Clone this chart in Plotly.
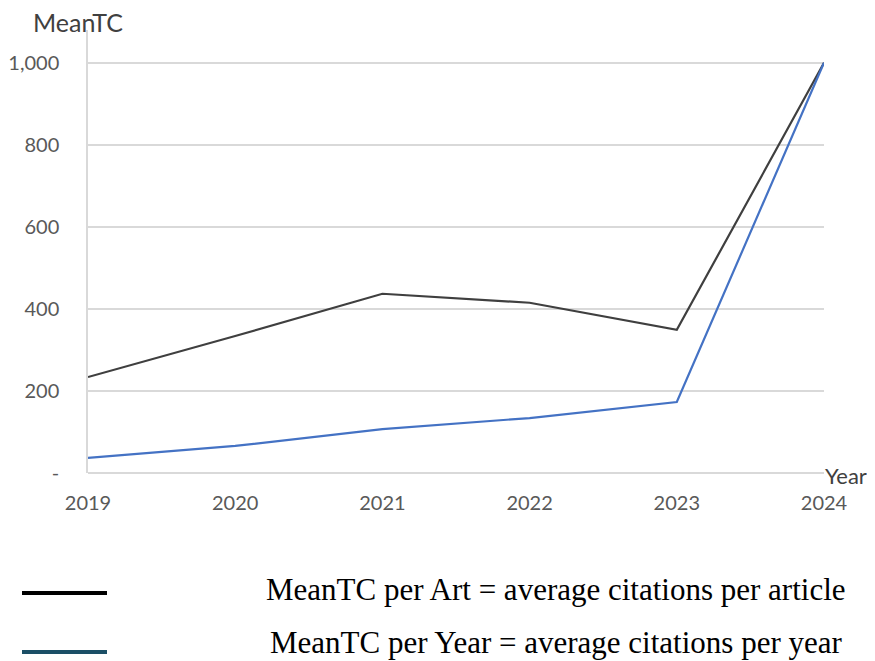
import plotly.graph_objects as go

years = [2019, 2020, 2021, 2022, 2023, 2024]
mean_tc_per_art = [234, 334, 437, 415, 349, 1000]
mean_tc_per_year = [37, 66, 107, 134, 173, 1000]
y_tick_vals = [0, 200, 400, 600, 800, 1000]
y_tick_text = ["-", "200", "400", "600", "800", "1,000"]
legend_labels = ["MeanTC per Art = average citations per article",
                 "MeanTC per Year = average citations per year"]
legend_colors = ["#000000", "#1b4f66"]

# page body has an 8px margin; figure geometry is offset accordingly
W, H = 867, 653
L, R, T, B = 80, 51, 22, 188
PW, PH = W - L - R, H - T - B


def px(x):
    return (x - 8 - L) / PW


def py(y):
    return 1 - (y - 8 - T) / PH


fig = go.Figure()
fig.add_trace(go.Scatter(x=years, y=mean_tc_per_art, mode="lines",
                         line=dict(color="#3f3f3f", width=2.2), showlegend=False))
fig.add_trace(go.Scatter(x=years, y=mean_tc_per_year, mode="lines",
                         line=dict(color="#4472c4", width=2.2), showlegend=False))

fig.update_layout(
    width=W, height=H,
    margin=dict(l=L, r=R, t=T, b=B, autoexpand=False),
    plot_bgcolor="white", paper_bgcolor="white",
    font=dict(family="Lato", color="#595959", size=20),
    xaxis=dict(range=[2019, 2024], tickvals=years, ticktext=[str(y) for y in years],
               showgrid=False, zeroline=False, showline=False, automargin=False,
               ticks="", ticklabelstandoff=16, tickfont=dict(size=20)),
    yaxis=dict(range=[0, 1080], tickvals=y_tick_vals, ticktext=y_tick_text,
               showgrid=True, gridcolor="#d9d9d9", gridwidth=1.5,
               zeroline=True, zerolinecolor="#d9d9d9", zerolinewidth=1.5,
               showline=True, linecolor="#d9d9d9", linewidth=1.5, automargin=False,
               ticks="", ticklabelstandoff=23, tickfont=dict(size=20)),
)

fig.add_annotation(xref="paper", yref="paper", x=px(31), y=py(22), xanchor="left", yanchor="middle",
                   text="MeanTC", showarrow=False, font=dict(size=25, color="#404040"))
fig.add_annotation(xref="paper", yref="paper", x=px(823), y=py(476), xanchor="left", yanchor="middle",
                   text="Year", showarrow=False, font=dict(size=22, color="#404040"))

line_y = [593, 652]
text_y = [589, 642]
for i, (lab, col) in enumerate(zip(legend_labels, legend_colors)):
    fig.add_shape(type="line", xref="paper", yref="paper",
                  x0=px(22), x1=px(107), y0=py(line_y[i]), y1=py(line_y[i]),
                  line=dict(color=col, width=4))
    fig.add_annotation(xref="paper", yref="paper", x=px(556), y=py(text_y[i]),
                       xanchor="center", yanchor="middle", text=lab, showarrow=False,
                       font=dict(family="Liberation Serif", size=31, color="#000000"))

fig.write_html("out.html")
